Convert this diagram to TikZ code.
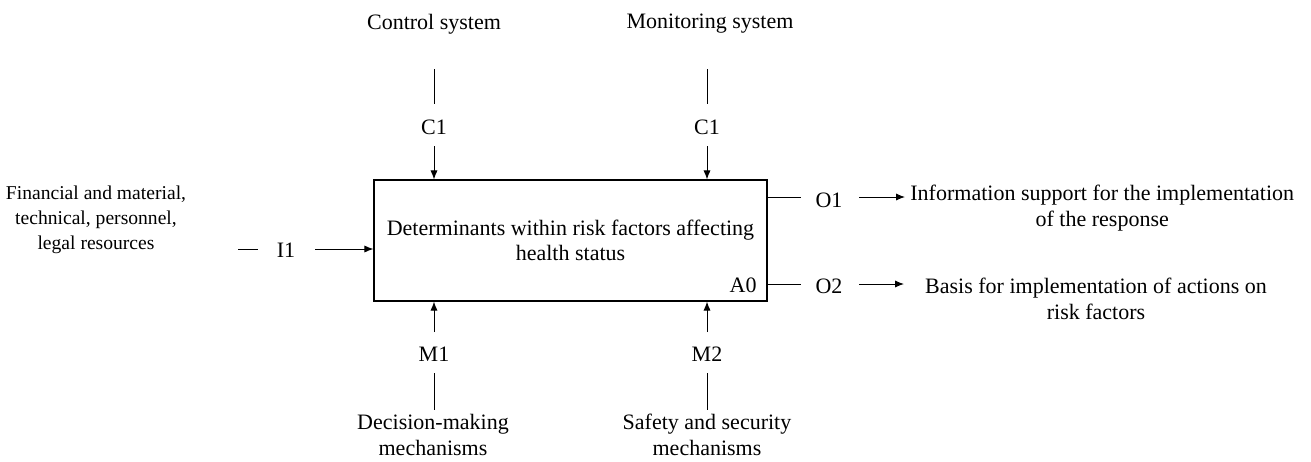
\documentclass[tikz,border=0pt]{standalone}
\usepackage{fontspec}
\setmainfont{Liberation Serif}
\usetikzlibrary{arrows.meta}
\begin{document}
\begin{tikzpicture}[x=0.5pt,y=-0.5pt,
  txt/.style={inner sep=0pt, align=center, font=\fontsize{11}{12.8}\selectfont},
  ln/.style={line width=0.5pt, black},
  arr/.style={ln, -{Latex[length=4.5pt,width=3.6pt]}},
  blk/.style={draw, line width=0.6pt, minimum width=196.5pt, minimum height=60.5pt, inner sep=0pt, align=center, font=\fontsize{11}{12.5}\selectfont}]
\useasboundingbox (0,0) rectangle (1311,461);
% main box
\node[blk] (box) at (570.5,240.5) {Determinants within risk factors affecting\\health status};
\node[txt, anchor=east] (a0) at (757,285) {A0};
% controls
\node[txt] (ctl) at (434,24) {Control system};
\node[txt] (mon) at (710,24) {Monitoring system};
\coordinate (c1t) at (434,69); \coordinate (c1m) at (434,104);
\coordinate (c2t) at (707,69); \coordinate (c2m) at (707,104);
\node[txt] (c1) at (434,127) {C1};
\node[txt] (c2) at (707,127) {C1};
\coordinate (c1s) at (434,146); \coordinate (c2s) at (707,146);
\draw[ln] (c1t) -- (c1m);
\draw[ln] (c2t) -- (c2m);
\draw[arr] (c1s) -- (c1s |- box.north);
\draw[arr] (c2s) -- (c2s |- box.north);
% input
\node[txt, font=\fontsize{9.8}{12.5}\selectfont] (inp) at (96,220) {Financial and material,\\technical, personnel,\\legal resources};
\coordinate (i1a) at (238,249); \coordinate (i1b) at (258,249);
\draw[ln] (i1a) -- (i1b);
\node[txt] (i1) at (286,250) {I1};
\coordinate (i1s) at (315,249);
\draw[arr] (i1s) -- (i1s -| box.west);
% outputs
\coordinate (o1a) at (767,197); \coordinate (o1b) at (801,197);
\coordinate (o2a) at (767,284); \coordinate (o2b) at (801,284);
\draw[ln] (o1a) -- (o1b);
\draw[ln] (o2a) -- (o2b);
\node[txt] (o1) at (829,200) {O1};
\node[txt] (o2) at (829,286) {O2};
\coordinate (o1s) at (859,197); \coordinate (o2s) at (859,284);
\node[txt, anchor=west] (out1) at (910,208) {Information support for the implementation\\of the response};
\node[txt] (out2) at (1096,299) {Basis for implementation of actions on\\risk factors};
\draw[arr] (o1s) -- (905,197) coordinate (o1e);
\draw[arr] (o2s) -- (904,284) coordinate (o2e);
% mechanisms
\coordinate (m1s) at (434,332); \coordinate (m2s) at (707,332);
\draw[arr] (m1s) -- (m1s |- box.south);
\draw[arr] (m2s) -- (m2s |- box.south);
\node[txt] (m1) at (434,354) {M1};
\node[txt] (m2) at (707,354) {M2};
\coordinate (m1a) at (434,373); \coordinate (m1b) at (434,410);
\coordinate (m2a) at (707,373); \coordinate (m2b) at (707,410);
\draw[ln] (m1a) -- (m1b);
\draw[ln] (m2a) -- (m2b);
\node[txt] (mech1) at (433,435) {Decision-making\\mechanisms};
\node[txt] (mech2) at (707,435) {Safety and security\\mechanisms};
\end{tikzpicture}
\end{document}
